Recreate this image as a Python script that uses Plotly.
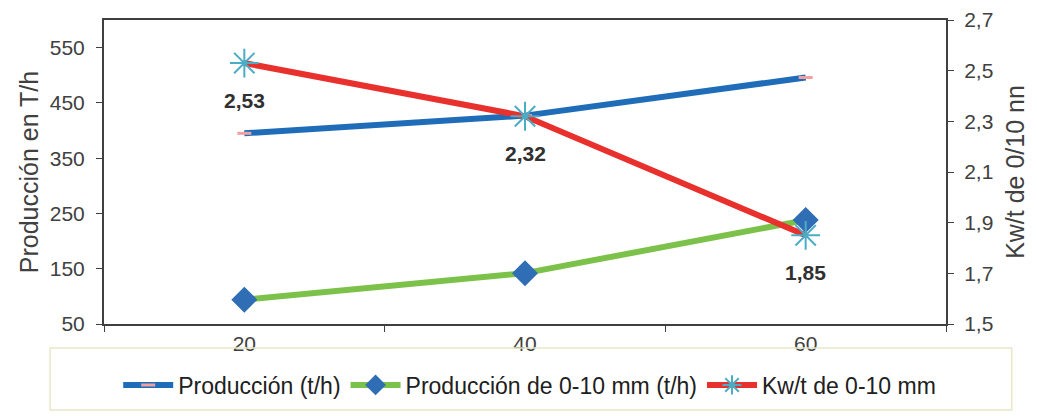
import plotly.graph_objects as go

categories = ["20", "40", "60"]
produccion = [395, 427, 496]
produccion_0_10 = [94, 142, 238]
kwt_0_10 = [2.53, 2.32, 1.85]

FONT = "Liberation Sans, Arial, sans-serif"
TXT = "#404040"

fig = go.Figure()
fig.add_trace(go.Scatter(
    x=categories, y=produccion, name="Producción (t/h)", mode="lines+markers",
    line=dict(color="#1F6DB9", width=6),
    marker=dict(symbol="line-ew", size=10, line=dict(color="#F0A0A0", width=3), color="#F0A0A0"),
))
fig.add_trace(go.Scatter(
    x=categories, y=produccion_0_10, name="Producción de 0-10 mm (t/h)", mode="lines+markers",
    line=dict(color="#7CC24A", width=6),
    marker=dict(symbol="diamond", size=20, color="#2F6DB5"),
))
fig.add_trace(go.Scatter(
    x=categories, y=kwt_0_10, name="Kw/t de 0-10 mm", mode="lines+markers", yaxis="y2",
    line=dict(color="#E8302C", width=6),
    marker=dict(symbol="asterisk-open", size=24, color="#4BACC6", line=dict(color="#4BACC6", width=2)),
))

for i, yv in enumerate(kwt_0_10):
    fig.add_annotation(x=i, y=yv, xref="x", yref="y2",
                       text="<b>" + f"{yv:.2f}".replace(".", ",") + "</b>",
                       showarrow=False, yshift=-37, font=dict(family=FONT, size=21, color="#303030"))

axis_common = dict(showline=True, linecolor="#404040", linewidth=2, ticks="outside", ticklen=6,
                   tickcolor="#404040", showgrid=False, zeroline=False, automargin=False,
                   tickfont=dict(family=FONT, size=21, color=TXT))

fig.update_layout(
    width=1029, height=408,
    margin=dict(l=96, r=91, t=12, b=92),
    plot_bgcolor="white", paper_bgcolor="white",
    separators=",.",
    xaxis=dict(type="category", tickson="boundaries", mirror=True, range=[-0.5, 2.5], **axis_common),
    yaxis=dict(range=[50, 600], tickvals=[50, 150, 250, 350, 450, 550], mirror=False,
               ticklabelstandoff=7,
               title=dict(text="Producción en T/h", font=dict(family=FONT, size=25, color=TXT), standoff=4),
               **axis_common),
    yaxis2=dict(range=[1.5, 2.7], dtick=0.2, tick0=1.5, overlaying="y", side="right", tickformat=".1f",
                ticklabelstandoff=6,
                title=dict(text="Kw/t de 0/10 nn", font=dict(family=FONT, size=25, color=TXT), standoff=14),
                **axis_common),
    legend=dict(orientation="h", xref="container", yref="container", x=0.507, xanchor="center",
                y=0.076, yanchor="middle",
                font=dict(family=FONT, size=23, color="#202020"), bgcolor="rgba(0,0,0,0)",
                itemwidth=50),
    showlegend=True,
)
fig.add_shape(type="rect", xref="paper", yref="paper", x0=-0.064, x1=1.078, y0=-0.079, y1=-0.283,
              line=dict(color="#E8E8C8", width=1.5), fillcolor="rgba(0,0,0,0)")

fig.write_html("out.html")
